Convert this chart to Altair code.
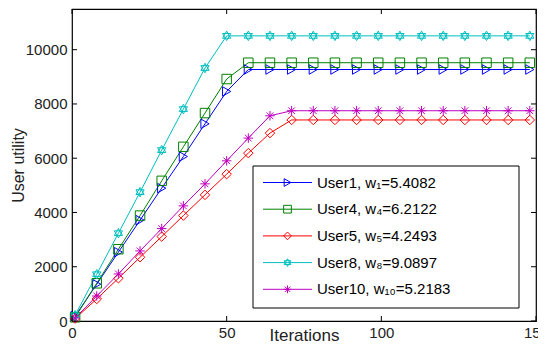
import altair as alt
import pandas as pd

iterations = [1, 8, 15, 22, 29, 36, 43, 50, 57, 64, 71, 78, 85, 92, 99, 106, 113, 120, 127, 134, 141, 148]

user1 = [177, 1357, 2537, 3717, 4897, 6063, 7269, 8461, 9270, 9270, 9270, 9270, 9270, 9270,
         9270, 9270, 9270, 9270, 9270, 9270, 9270, 9270]
user4 = [136, 1390, 2645, 3886, 5166, 6420, 7664, 8918, 9520, 9520, 9520, 9520, 9520, 9520,
         9520, 9520, 9520, 9520, 9520, 9520, 9520, 9520]
user5 = [90, 812, 1575, 2350, 3111, 3886, 4649, 5413, 6188, 6926, 7410, 7410, 7410, 7410,
         7410, 7410, 7410, 7410, 7410, 7410, 7410, 7410]
user8 = [210, 1723, 3236, 4749, 6299, 7811, 9325, 10510, 10510, 10510, 10510, 10510, 10510, 10510,
         10510, 10510, 10510, 10510, 10510, 10510, 10510, 10510]
user10 = [110, 922, 1734, 2583, 3406, 4244, 5055, 5904, 6741, 7565, 7750, 7750, 7750, 7750,
          7750, 7750, 7750, 7750, 7750, 7750, 7750, 7750]

series_names = ["User1", "User4", "User5", "User8", "User10"]
legend_labels = ["User1, w\u2081=5.4082", "User4, w\u2084=6.2122", "User5, w\u2085=4.2493",
                 "User8, w\u2088=9.0897", "User10, w\u2081\u2080=5.2183"]
series_values = [user1, user4, user5, user8, user10]

colors = ["#0000FF", "#008000", "#FF0000", "#00BFBF", "#BF00BF"]
hexagram = "M0,-1L0.866,0.5L-0.866,0.5ZM0,1L0.866,-0.5L-0.866,-0.5Z"
asterisk = "M-1,0L1,0M0,-1L0,1M-0.7,-0.7L0.7,0.7M-0.7,0.7L0.7,-0.7"
shapes = ["triangle-right", "square", "diamond", hexagram, asterisk]

x_ticks = [0, 50, 100, 150]
y_ticks = [0, 2000, 4000, 6000, 8000, 10000]

rows = []
for name, vals in zip(series_names, series_values):
    for it, v in zip(iterations, vals):
        rows.append({"series": name, "iter": it, "value": v})
df = pd.DataFrame(rows)

xs = alt.Scale(domain=[0, 150], nice=False, zero=False)
ys = alt.Scale(domain=[0, 11500], nice=False)
cs = alt.Scale(domain=series_names, range=colors)
ss = alt.Scale(domain=series_names, range=shapes)

font = "Liberation Sans"

xaxis = alt.Axis(values=x_ticks, tickSize=0, labelPadding=4, labelFontSize=15, labelFont=font,
                 labelColor="#222", labelFlush=False, grid=False, domain=False, format="d",
                 title="Iterations", titleFont=font, titleFontSize=17, titleFontWeight="normal",
                 titleColor="#222", titleX=232, titleY=19, titleBaseline="alphabetic")
yaxis = alt.Axis(values=y_ticks, tickSize=0, labelPadding=5, labelFontSize=15, labelFont=font,
                 labelColor="#222", grid=False, domain=False, format="d",
                 title="User utility", titleFont=font, titleFontSize=16, titleFontWeight="normal",
                 titleColor="#222", titleX=-54, titleY=156, titleAngle=270, titleBaseline="middle",
                 titleAlign="center")

base = alt.Chart(df)
lines = base.mark_line(strokeWidth=1).encode(
    x=alt.X("iter:Q", scale=xs, axis=xaxis),
    y=alt.Y("value:Q", scale=ys, axis=yaxis),
    color=alt.Color("series:N", scale=cs, legend=None),
    detail="series:N",
)
points = base.mark_point(filled=False, strokeWidth=1, size=90, opacity=1).encode(
    x=alt.X("iter:Q", scale=xs),
    y=alt.Y("value:Q", scale=ys),
    color=alt.Color("series:N", scale=cs, legend=None),
    shape=alt.Shape("series:N", scale=ss, legend=None),
)

xt = pd.DataFrame({"t": x_ticks})
yt = pd.DataFrame({"t": y_ticks})
tick_bottom = alt.Chart(xt).mark_rule(color="black").encode(
    x=alt.X("t:Q", scale=xs), y=alt.value(312), y2=alt.value(307))
tick_top = alt.Chart(xt).mark_rule(color="black").encode(
    x=alt.X("t:Q", scale=xs), y=alt.value(0), y2=alt.value(5))
tick_left = alt.Chart(yt).mark_rule(color="black").encode(
    y=alt.Y("t:Q", scale=ys), x=alt.value(0), x2=alt.value(5))
tick_right = alt.Chart(yt).mark_rule(color="black").encode(
    y=alt.Y("t:Q", scale=ys), x=alt.value(464), x2=alt.value(459))

main = alt.layer(lines, points, tick_bottom, tick_top, tick_left, tick_right)

ldf = pd.DataFrame({"series": series_names, "label": legend_labels,
                    "row": list(range(len(series_names)))})
rowscale = alt.Scale(domain=[0, 4], range=[173.5, 280.3])
lbase = alt.Chart(ldf)
box = alt.Chart(pd.DataFrame({"a": [0]})).mark_rect(fill="white", stroke="black", strokeWidth=1).encode(
    x=alt.value(181), x2=alt.value(447), y=alt.value(157), y2=alt.value(299))
lrules = lbase.mark_rule(strokeWidth=1).encode(
    x=alt.value(191), x2=alt.value(240),
    y=alt.Y("row:Q", scale=rowscale, axis=None),
    color=alt.Color("series:N", scale=cs, legend=None))
lpts = lbase.mark_point(filled=False, strokeWidth=1, size=60, opacity=1).encode(
    x=alt.value(215.5),
    y=alt.Y("row:Q", scale=rowscale, axis=None),
    color=alt.Color("series:N", scale=cs, legend=None),
    shape=alt.Shape("series:N", scale=ss, legend=None))
ltext = lbase.mark_text(align="left", baseline="middle", font=font, fontSize=15, color="black").encode(
    x=alt.value(245),
    y=alt.Y("row:Q", scale=rowscale, axis=None),
    text="label:N")
legend = alt.layer(box, lrules, lpts, ltext)

chart = alt.layer(main, legend).resolve_scale(y="independent").properties(
    width=464, height=312,
    autosize=alt.AutoSizeParams(type="none"),
    padding={"left": 64, "top": 1, "right": 2, "bottom": 22},
).configure_view(stroke="black", strokeWidth=1.2)

chart.save("out.html", embed_options={"renderer": "svg", "actions": False})
